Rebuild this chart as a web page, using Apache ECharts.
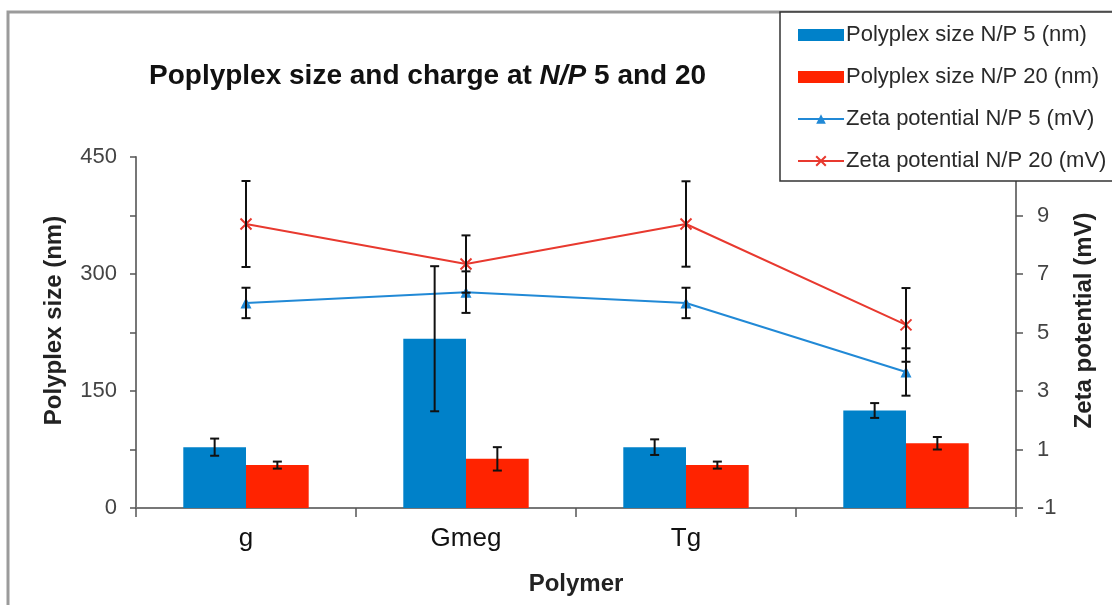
<!DOCTYPE html>
<html>
<head>
<meta charset="utf-8">
<script src="https://cdn.jsdelivr.net/npm/echarts@6/dist/echarts.min.js"></script>
<style>
html,body{margin:0;padding:0;background:#fff;}
#chart{width:1112px;height:605px;}
</style>
</head>
<body>
<div id="chart"></div>
<script>
// ---- data ----
var categories = ['g', 'Gmeg', 'Tg', ''];
var sizeNP5 = [78, 217, 78, 125];
var sizeNP5Err = [11, 93, 10, 9.5];
var sizeNP20 = [55, 63, 55, 83];
var sizeNP20Err = [4.5, 15, 4.5, 8];
var zetaNP5 = [6.01, 6.38, 6.01, 3.65];
var zetaNP5Err = [0.52, 0.71, 0.52, 0.81];
var zetaNP20 = [8.71, 7.34, 8.71, 5.26];
var zetaNP20Err = [1.47, 0.98, 1.46, 1.26];
var leftTicks = [0, 150, 300, 450];
var rightTicks = [-1, 1, 3, 5, 7, 9];

var seriesNames = ['Polyplex size N/P 5 (nm)', 'Polyplex size N/P 20 (nm)', 'Zeta potential N/P 5 (mV)', 'Zeta potential N/P 20 (mV)'];
var BAR_FRAC = 0.285;
var C_BLUE_BAR = '#0081c9', C_RED_BAR = '#ff2300', C_BLUE_LINE = '#2189d6', C_RED_LINE = '#e8392f';

function errData(vals, errs) {
  return vals.map(function (v, i) { return [i, v, errs[i]]; });
}
function errRender(side) {
  return function (params, api) {
    var i = api.value(0), v = api.value(1), e = api.value(2);
    var catW = api.size([1, 0])[0];
    var dx = side * catW * BAR_FRAC / 2;
    var top = api.coord([i, v + e]);
    var bot = api.coord([i, v - e]);
    var x = top[0] + dx;
    var cap = 4.5;
    var st = { stroke: '#111', lineWidth: 2 };
    return {
      type: 'group',
      children: [
        { type: 'line', shape: { x1: x, y1: top[1], x2: x, y2: bot[1] }, style: st },
        { type: 'line', shape: { x1: x - cap, y1: top[1], x2: x + cap, y2: top[1] }, style: st },
        { type: 'line', shape: { x1: x - cap, y1: bot[1], x2: x + cap, y2: bot[1] }, style: st }
      ]
    };
  };
}

var chart = echarts.init(document.getElementById('chart'), null, { renderer: 'canvas' });
var axisFont = 'Liberation Sans, Arial, sans-serif';
var option = {
  backgroundColor: '#fff',
  animation: false,
  textStyle: { fontFamily: axisFont },
  graphic: [{
    type: 'rect', z: -10, silent: true,
    shape: { x: 8, y: 12, width: 1300, height: 800 },
    style: { fill: 'none', stroke: '#9b9b9b', lineWidth: 3 }
  }],
  title: {
    text: '{b|Poplyplex size and charge at }{i|N/P}{b| 5 and 20}',
    left: 144, top: 57,
    textStyle: {
      rich: {
        b: { fontSize: 28, fontWeight: 'bold', color: '#111', fontFamily: axisFont },
        i: { fontSize: 28, fontWeight: 'bold', fontStyle: 'italic', color: '#111', fontFamily: axisFont }
      }
    }
  },
  legend: {
    data: [
      { name: seriesNames[0], icon: 'rect' },
      { name: seriesNames[1], icon: 'rect' },
      { name: seriesNames[2] },
      { name: seriesNames[3] }
    ],
    orient: 'vertical',
    left: 780, top: 12,
    padding: [12, 40, 9, 17],
    itemGap: 20,
    itemWidth: 46, itemHeight: 12,
    backgroundColor: '#fff',
    borderColor: '#333', borderWidth: 1.5,
    textStyle: { fontSize: 22, lineHeight: 22, color: '#2a2a2a', fontFamily: axisFont, padding: [0, 0, 0, -3] }
  },
  grid: { left: 136, right: 96, top: 157, bottom: 97 },
  xAxis: {
    type: 'category',
    data: categories,
    boundaryGap: true,
    axisLine: { lineStyle: { color: '#777', width: 2 } },
    axisTick: { show: true, length: 9, lineStyle: { color: '#555', width: 1.5 } },
    axisLabel: { fontSize: 26, color: '#111', margin: 18, fontFamily: axisFont },
    name: 'Polymer',
    nameLocation: 'middle',
    nameGap: 64,
    nameTextStyle: { fontSize: 24, fontWeight: 'bold', color: '#222', fontFamily: axisFont }
  },
  yAxis: [{
    type: 'value',
    min: 0, max: 450, interval: 75,
    splitLine: { show: false },
    axisLine: { show: true, lineStyle: { color: '#777', width: 2 } },
    axisTick: { show: true, length: 6, lineStyle: { color: '#555', width: 1.5 } },
    axisLabel: {
      fontSize: 22, color: '#444', margin: 19, fontFamily: axisFont,
      formatter: function (v) { return leftTicks.indexOf(v) >= 0 ? String(v) : ''; }
    },
    name: 'Polyplex size (nm)',
    nameLocation: 'middle',
    nameGap: 70,
    nameTextStyle: { fontSize: 24, fontWeight: 'bold', color: '#222', fontFamily: axisFont, padding: [0, 0, 0, 24] }
  }, {
    type: 'value',
    position: 'right',
    min: -1, max: 11, interval: 2,
    splitLine: { show: false },
    axisLine: { show: true, lineStyle: { color: '#777', width: 2 } },
    axisTick: { show: true, length: 7, lineStyle: { color: '#555', width: 1.5 } },
    axisLabel: {
      fontSize: 22, color: '#444', margin: 21, fontFamily: axisFont,
      formatter: function (v) { return rightTicks.indexOf(v) >= 0 ? String(v) : ''; }
    },
    name: 'Zeta potential (mV)',
    nameLocation: 'middle',
    nameGap: 56,
    nameTextStyle: { fontSize: 24, fontWeight: 'bold', color: '#222', fontFamily: axisFont, padding: [0, 0, 0, 24] }
  }],
  series: [
    {
      name: seriesNames[0], type: 'bar', yAxisIndex: 0,
      data: sizeNP5, barWidth: (BAR_FRAC * 100) + '%', barGap: '0%',
      itemStyle: { color: C_BLUE_BAR }
    },
    {
      name: seriesNames[1], type: 'bar', yAxisIndex: 0,
      data: sizeNP20, barWidth: (BAR_FRAC * 100) + '%', barGap: '0%',
      itemStyle: { color: C_RED_BAR }
    },
    {
      name: seriesNames[2], type: 'line', yAxisIndex: 1,
      data: zetaNP5, symbol: 'triangle', symbolSize: 11,
      lineStyle: { color: C_BLUE_LINE, width: 2 },
      itemStyle: { color: C_BLUE_LINE }, z: 5
    },
    {
      name: seriesNames[3], type: 'line', yAxisIndex: 1,
      data: zetaNP20, symbol: 'path://M0 0L10 10M10 0L0 10', symbolSize: 11,
      lineStyle: { color: C_RED_LINE, width: 2 },
      itemStyle: { color: C_RED_LINE, borderColor: C_RED_LINE, borderWidth: 2 }, z: 5
    },
    { type: 'custom', yAxisIndex: 0, data: errData(sizeNP5, sizeNP5Err), renderItem: errRender(-1), z: 6, encode: { x: 0, y: 1 } },
    { type: 'custom', yAxisIndex: 0, data: errData(sizeNP20, sizeNP20Err), renderItem: errRender(1), z: 6, encode: { x: 0, y: 1 } },
    { type: 'custom', yAxisIndex: 1, data: errData(zetaNP5, zetaNP5Err), renderItem: errRender(0), z: 6, encode: { x: 0, y: 1 } },
    { type: 'custom', yAxisIndex: 1, data: errData(zetaNP20, zetaNP20Err), renderItem: errRender(0), z: 6, encode: { x: 0, y: 1 } }
  ]
};
chart.setOption(option);
</script>
</body>
</html>
